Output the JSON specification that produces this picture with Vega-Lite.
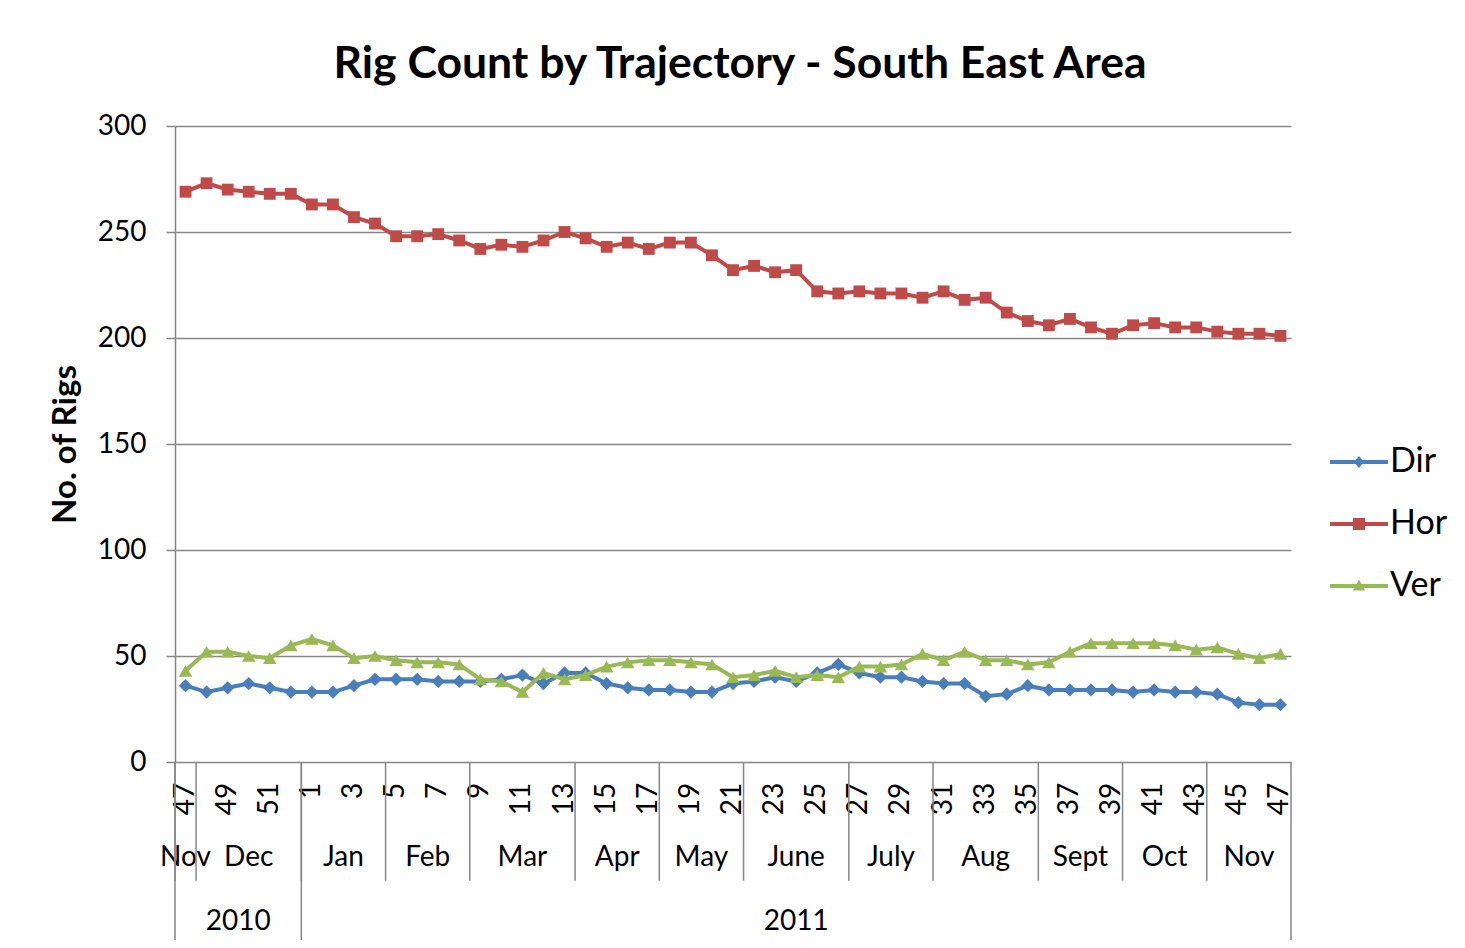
{
  "$schema": "https://vega.github.io/schema/vega-lite/v6.json",
  "background": "white",
  "padding": {"left": 49, "top": 41, "right": 0, "bottom": 0},
  "autosize": {"type": "pad"},
  "title": {"text": "Rig Count by Trajectory - South East Area", "font": "Lato", "fontSize": 44.5, "fontWeight": "bold", "color": "black", "anchor": "middle", "frame": "group", "dx": 7, "offset": 25},
  "datasets": {
    "weeks": [
      {"seq": 0, "year": "2010", "month": "Nov", "week": 47, "Dir": 36, "Hor": 269, "Ver": 43},
      {"seq": 1, "year": "2010", "month": "Dec", "week": 48, "Dir": 33, "Hor": 273, "Ver": 52},
      {"seq": 2, "year": "2010", "month": "Dec", "week": 49, "Dir": 35, "Hor": 270, "Ver": 52},
      {"seq": 3, "year": "2010", "month": "Dec", "week": 50, "Dir": 37, "Hor": 269, "Ver": 50},
      {"seq": 4, "year": "2010", "month": "Dec", "week": 51, "Dir": 35, "Hor": 268, "Ver": 49},
      {"seq": 5, "year": "2010", "month": "Dec", "week": 52, "Dir": 33, "Hor": 268, "Ver": 55},
      {"seq": 6, "year": "2011", "month": "Jan", "week": 1, "Dir": 33, "Hor": 263, "Ver": 58},
      {"seq": 7, "year": "2011", "month": "Jan", "week": 2, "Dir": 33, "Hor": 263, "Ver": 55},
      {"seq": 8, "year": "2011", "month": "Jan", "week": 3, "Dir": 36, "Hor": 257, "Ver": 49},
      {"seq": 9, "year": "2011", "month": "Jan", "week": 4, "Dir": 39, "Hor": 254, "Ver": 50},
      {"seq": 10, "year": "2011", "month": "Feb", "week": 5, "Dir": 39, "Hor": 248, "Ver": 48},
      {"seq": 11, "year": "2011", "month": "Feb", "week": 6, "Dir": 39, "Hor": 248, "Ver": 47},
      {"seq": 12, "year": "2011", "month": "Feb", "week": 7, "Dir": 38, "Hor": 249, "Ver": 47},
      {"seq": 13, "year": "2011", "month": "Feb", "week": 8, "Dir": 38, "Hor": 246, "Ver": 46},
      {"seq": 14, "year": "2011", "month": "Mar", "week": 9, "Dir": 38, "Hor": 242, "Ver": 39},
      {"seq": 15, "year": "2011", "month": "Mar", "week": 10, "Dir": 39, "Hor": 244, "Ver": 38},
      {"seq": 16, "year": "2011", "month": "Mar", "week": 11, "Dir": 41, "Hor": 243, "Ver": 33},
      {"seq": 17, "year": "2011", "month": "Mar", "week": 12, "Dir": 37, "Hor": 246, "Ver": 42},
      {"seq": 18, "year": "2011", "month": "Mar", "week": 13, "Dir": 42, "Hor": 250, "Ver": 39},
      {"seq": 19, "year": "2011", "month": "Apr", "week": 14, "Dir": 42, "Hor": 247, "Ver": 41},
      {"seq": 20, "year": "2011", "month": "Apr", "week": 15, "Dir": 37, "Hor": 243, "Ver": 45},
      {"seq": 21, "year": "2011", "month": "Apr", "week": 16, "Dir": 35, "Hor": 245, "Ver": 47},
      {"seq": 22, "year": "2011", "month": "Apr", "week": 17, "Dir": 34, "Hor": 242, "Ver": 48},
      {"seq": 23, "year": "2011", "month": "May", "week": 18, "Dir": 34, "Hor": 245, "Ver": 48},
      {"seq": 24, "year": "2011", "month": "May", "week": 19, "Dir": 33, "Hor": 245, "Ver": 47},
      {"seq": 25, "year": "2011", "month": "May", "week": 20, "Dir": 33, "Hor": 239, "Ver": 46},
      {"seq": 26, "year": "2011", "month": "May", "week": 21, "Dir": 37, "Hor": 232, "Ver": 40},
      {"seq": 27, "year": "2011", "month": "June", "week": 22, "Dir": 38, "Hor": 234, "Ver": 41},
      {"seq": 28, "year": "2011", "month": "June", "week": 23, "Dir": 40, "Hor": 231, "Ver": 43},
      {"seq": 29, "year": "2011", "month": "June", "week": 24, "Dir": 38, "Hor": 232, "Ver": 40},
      {"seq": 30, "year": "2011", "month": "June", "week": 25, "Dir": 42, "Hor": 222, "Ver": 41},
      {"seq": 31, "year": "2011", "month": "June", "week": 26, "Dir": 46, "Hor": 221, "Ver": 40},
      {"seq": 32, "year": "2011", "month": "July", "week": 27, "Dir": 42, "Hor": 222, "Ver": 45},
      {"seq": 33, "year": "2011", "month": "July", "week": 28, "Dir": 40, "Hor": 221, "Ver": 45},
      {"seq": 34, "year": "2011", "month": "July", "week": 29, "Dir": 40, "Hor": 221, "Ver": 46},
      {"seq": 35, "year": "2011", "month": "July", "week": 30, "Dir": 38, "Hor": 219, "Ver": 51},
      {"seq": 36, "year": "2011", "month": "Aug", "week": 31, "Dir": 37, "Hor": 222, "Ver": 48},
      {"seq": 37, "year": "2011", "month": "Aug", "week": 32, "Dir": 37, "Hor": 218, "Ver": 52},
      {"seq": 38, "year": "2011", "month": "Aug", "week": 33, "Dir": 31, "Hor": 219, "Ver": 48},
      {"seq": 39, "year": "2011", "month": "Aug", "week": 34, "Dir": 32, "Hor": 212, "Ver": 48},
      {"seq": 40, "year": "2011", "month": "Aug", "week": 35, "Dir": 36, "Hor": 208, "Ver": 46},
      {"seq": 41, "year": "2011", "month": "Sept", "week": 36, "Dir": 34, "Hor": 206, "Ver": 47},
      {"seq": 42, "year": "2011", "month": "Sept", "week": 37, "Dir": 34, "Hor": 209, "Ver": 52},
      {"seq": 43, "year": "2011", "month": "Sept", "week": 38, "Dir": 34, "Hor": 205, "Ver": 56},
      {"seq": 44, "year": "2011", "month": "Sept", "week": 39, "Dir": 34, "Hor": 202, "Ver": 56},
      {"seq": 45, "year": "2011", "month": "Oct", "week": 40, "Dir": 33, "Hor": 206, "Ver": 56},
      {"seq": 46, "year": "2011", "month": "Oct", "week": 41, "Dir": 34, "Hor": 207, "Ver": 56},
      {"seq": 47, "year": "2011", "month": "Oct", "week": 42, "Dir": 33, "Hor": 205, "Ver": 55},
      {"seq": 48, "year": "2011", "month": "Oct", "week": 43, "Dir": 33, "Hor": 205, "Ver": 53},
      {"seq": 49, "year": "2011", "month": "Nov", "week": 44, "Dir": 32, "Hor": 203, "Ver": 54},
      {"seq": 50, "year": "2011", "month": "Nov", "week": 45, "Dir": 28, "Hor": 202, "Ver": 51},
      {"seq": 51, "year": "2011", "month": "Nov", "week": 46, "Dir": 27, "Hor": 202, "Ver": 49},
      {"seq": 52, "year": "2011", "month": "Nov", "week": 47, "Dir": 27, "Hor": 201, "Ver": 51}
    ]
  },
  "spacing": 0,
  "bounds": "flush",
  "vconcat": [
    {
      "width": 1116,
      "height": 636,
      "data": {"name": "weeks"},
      "transform": [{"fold": ["Dir", "Hor", "Ver"], "as": ["series", "rigs"]}],
      "encoding": {
        "x": {"field": "seq", "type": "quantitative", "scale": {"domain": [-0.5, 52.5], "nice": false, "zero": false}, "axis": null},
        "y": {"field": "rigs", "type": "quantitative", "scale": {"domain": [0, 300], "nice": false},
          "axis": {"values": [0, 50, 100, 150, 200, 250, 300], "title": "No. of Rigs", "titleFont": "Lato", "titleFontSize": 33, "titleFontWeight": "bold", "titleColor": "black", "titlePadding": 15,
            "labelFont": "Lato", "labelFontSize": 28, "labelColor": "black", "labelPadding": 20,
            "grid": true, "gridColor": "#868686", "gridWidth": 1.5, "domainColor": "#868686", "domainWidth": 1.5,
            "tickColor": "#868686", "tickWidth": 1.5, "tickSize": 9}},
        "color": {"field": "series", "type": "nominal",
          "scale": {"domain": ["Dir", "Hor", "Ver"], "range": ["#4A7EBB", "#BE4B48", "#98B954"]},
          "legend": {"orient": "none", "legendX": 1167, "legendY": 319, "title": null,
            "labelFont": "Lato", "labelFontSize": 34, "labelColor": "black", "labelOffset": 14,
            "symbolSize": 144, "rowPadding": 28, "padding": 0,
            "encode": {"symbols": {"update": {
              "shape": {"signal": "datum.value === 'Dir' ? 'M-4.83,-0.35H4.83V0.35H-4.83Z M0,-1L0.8,0L0,1L-0.8,0Z' : datum.value === 'Hor' ? 'M-4.83,-0.35H4.83V0.35H-4.83Z M-1,-1H1V1H-1Z' : 'M-4.83,-0.35H4.83V0.35H-4.83Z M0,-1.1L1,0.75H-1Z'"},
              "fill": {"signal": "scale('color', datum.value)"},
              "fillOpacity": {"value": 1},
              "opacity": {"value": 1},
              "stroke": {"value": "transparent"},
              "strokeWidth": {"value": 0},
              "size": {"value": 144}}}}}}
      },
      "layer": [
        {"transform": [{"filter": "datum.series === 'Dir'"}], "mark": {"type": "line", "strokeWidth": 4, "point": {"shape": "diamond", "size": 175, "filled": true, "opacity": 1}}},
        {"transform": [{"filter": "datum.series === 'Hor'"}], "mark": {"type": "line", "strokeWidth": 4, "point": {"shape": "square", "size": 140, "filled": true, "opacity": 1}}},
        {"transform": [{"filter": "datum.series === 'Ver'"}], "mark": {"type": "line", "strokeWidth": 4, "point": {"shape": "triangle-up", "size": 180, "filled": true, "opacity": 1}}}
      ]
    },
    {
      "width": 1116,
      "height": 178,
      "data": {"name": "weeks"},
      "layer": [
        {
          "transform": [{"filter": "datum.seq % 2 === 0"}],
          "mark": {"type": "text", "font": "Lato", "fontSize": 28, "color": "black", "angle": 270, "align": "right", "baseline": "middle"},
          "encoding": {
            "x": {"field": "seq", "type": "quantitative", "scale": {"domain": [-0.5, 52.5], "nice": false, "zero": false}, "axis": null},
            "y": {"datum": 0.35, "type": "quantitative", "scale": {"domain": [0, 3], "reverse": true, "nice": false, "zero": false}, "axis": null},
            "text": {"field": "week", "type": "nominal"}
          }
        },
        {
          "mark": {"type": "text", "font": "Lato", "fontSize": 28, "color": "black", "baseline": "middle"},
          "encoding": {
            "x": {"aggregate": "mean", "field": "seq", "type": "quantitative"},
            "y": {"datum": 1.62, "type": "quantitative"},
            "text": {"field": "month", "type": "nominal"},
            "detail": {"field": "year", "type": "nominal"}
          }
        },
        {
          "mark": {"type": "text", "font": "Lato", "fontSize": 28, "color": "black", "baseline": "middle"},
          "encoding": {
            "x": {"aggregate": "mean", "field": "seq", "type": "quantitative"},
            "y": {"datum": 2.7, "type": "quantitative"},
            "text": {"field": "year", "type": "nominal"}
          }
        },
        {
          "mark": {"type": "rule", "color": "#868686", "strokeWidth": 1.5, "xOffset": -10.53},
          "encoding": {
            "x": {"aggregate": "min", "field": "seq", "type": "quantitative"},
            "y": {"datum": 0, "type": "quantitative"},
            "y2": {"datum": 2},
            "detail": [{"field": "year", "type": "nominal"}, {"field": "month", "type": "nominal"}]
          }
        },
        {
          "mark": {"type": "rule", "color": "#868686", "strokeWidth": 1.5, "xOffset": -10.53},
          "encoding": {
            "x": {"aggregate": "min", "field": "seq", "type": "quantitative"},
            "y": {"datum": 0, "type": "quantitative"},
            "y2": {"datum": 3},
            "detail": {"field": "year", "type": "nominal"}
          }
        },
        {
          "mark": {"type": "rule", "color": "#868686", "strokeWidth": 1.5, "xOffset": 10.53},
          "encoding": {
            "x": {"aggregate": "max", "field": "seq", "type": "quantitative"},
            "y": {"datum": 0, "type": "quantitative"},
            "y2": {"datum": 3}
          }
        }
      ]
    }
  ],
  "config": {"view": {"stroke": null}, "font": "Lato"}
}
